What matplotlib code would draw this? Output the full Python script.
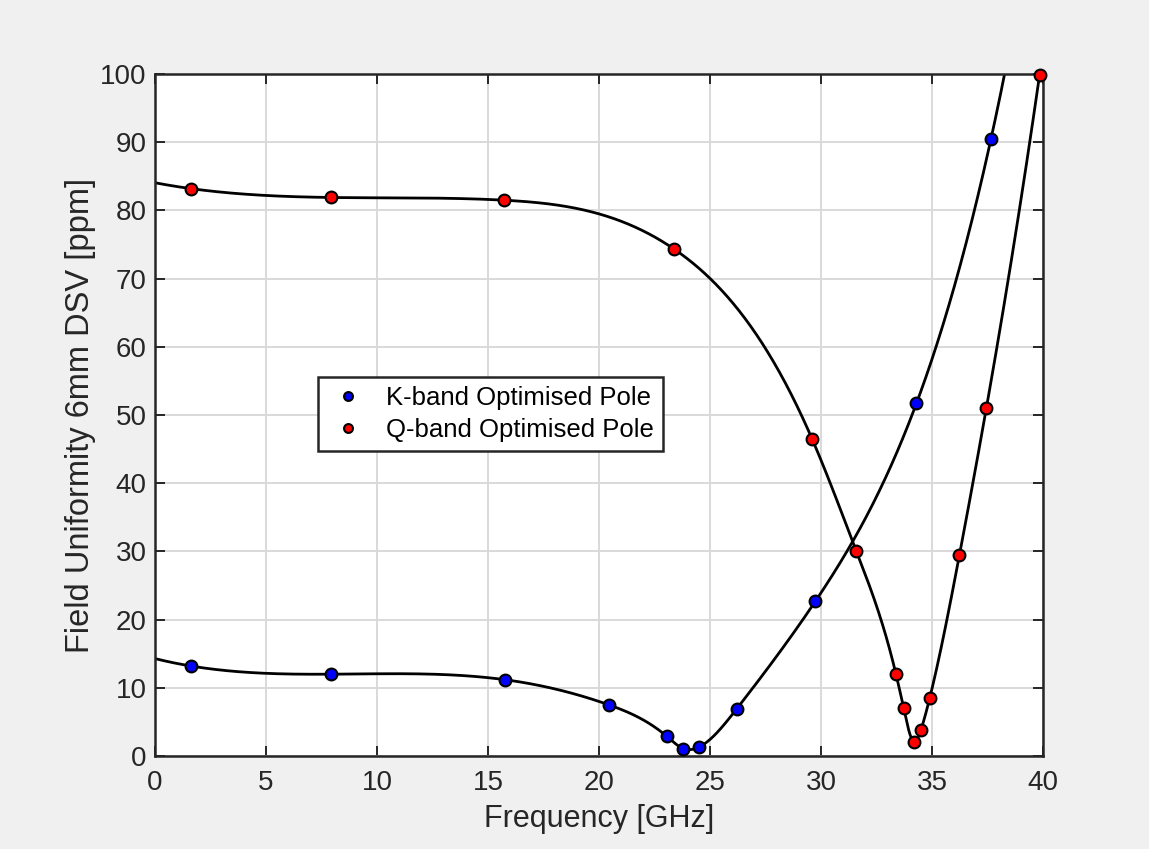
import matplotlib
matplotlib.use("Agg")
import matplotlib.pyplot as plt
import numpy as np

plt.rcParams['font.family'] = ['Liberation Sans', 'DejaVu Sans']

# K-band optimised pole
k_freq = [1.62, 7.93, 15.75, 20.45, 23.05, 23.8, 24.5, 26.2, 29.75, 34.3, 37.66]
k_unif = [13.2, 12.0, 11.2, 7.5, 2.9, 1.1, 1.3, 6.9, 22.7, 51.7, 90.5]

# Q-band optimised pole
q_freq = [1.62, 7.93, 15.73, 23.4, 29.6, 31.6, 33.38, 33.72, 34.2, 34.5, 34.9, 36.24, 37.45, 39.85]
q_unif = [83.2, 81.9, 81.5, 74.3, 46.5, 30.0, 12.0, 7.1, 2.05, 3.8, 8.5, 29.5, 51.0, 99.9]


def spline(x, y, xs):
    # not-a-knot cubic spline, like matlab's spline()
    x = np.asarray(x, float)
    y = np.asarray(y, float)
    n = len(x)
    h = np.diff(x)
    A = np.zeros((n, n))
    b = np.zeros(n)
    for i in range(1, n - 1):
        A[i, i - 1] = h[i - 1]
        A[i, i] = 2 * (h[i - 1] + h[i])
        A[i, i + 1] = h[i]
        b[i] = 6 * ((y[i + 1] - y[i]) / h[i] - (y[i] - y[i - 1]) / h[i - 1])
    A[0, 0], A[0, 1], A[0, 2] = h[1], -(h[0] + h[1]), h[0]
    A[-1, -3], A[-1, -2], A[-1, -1] = h[-1], -(h[-2] + h[-1]), h[-2]
    M = np.linalg.solve(A, b)
    idx = np.clip(np.searchsorted(x, xs) - 1, 0, n - 2)
    x0, x1 = x[idx], x[idx + 1]
    hh = x1 - x0
    return (M[idx] * (x1 - xs) ** 3 / (6 * hh) + M[idx + 1] * (xs - x0) ** 3 / (6 * hh)
            + (y[idx] / hh - M[idx] * hh / 6) * (x1 - xs)
            + (y[idx + 1] / hh - M[idx + 1] * hh / 6) * (xs - x0))


fig = plt.figure(figsize=(11.49, 8.49), dpi=100, facecolor='#f0f0f0')
ax = fig.add_axes([0.1349, 0.1095, 0.7728, 0.8033])

xs = np.linspace(0, 40, 2000)
ax.plot(xs, spline(k_freq, k_unif, xs), color='black', lw=2.0, zorder=2)
xq = np.linspace(0, q_freq[-1], 2000)
ax.plot(xq, spline(q_freq, q_unif, xq), color='black', lw=2.0, zorder=2)

ax.plot(k_freq, k_unif, 'o', color='blue', mec='black', mew=1.5, ms=8.5,
        label='K-band Optimised Pole', zorder=3, clip_on=False)
ax.plot(q_freq, q_unif, 'o', color='red', mec='black', mew=1.5, ms=8.5,
        label='Q-band Optimised Pole', zorder=3, clip_on=False)

ax.set_xlim(0, 40)
ax.set_ylim(0, 100)
ax.set_xticks(np.arange(0, 41, 5))
ax.set_yticks(np.arange(0, 101, 10))
ax.grid(True, color='#d9d9d9', lw=1.4)
ax.set_axisbelow(True)
ax.tick_params(axis='both', direction='in', length=7, width=1.4, top=True, right=True,
               labelsize=20, colors='#262626')
ax.tick_params(axis='x', pad=10)
ax.tick_params(axis='y', pad=6)
for s in ax.spines.values():
    s.set_color('#262626')
    s.set_linewidth(1.8)

ax.set_xlabel('Frequency [GHz]', fontsize=22, color='#262626', labelpad=6)
ax.set_ylabel('Field Uniformity 6mm DSV [ppm]', fontsize=23.5, color='#262626', labelpad=3)

leg = ax.legend(loc='upper left', bbox_to_anchor=(0.1836, 0.5557), fontsize=18.5,
                fancybox=False, edgecolor='#262626', framealpha=1,
                handlelength=1.6, handletextpad=0.7, borderpad=0.35, labelspacing=0.3,
                markerscale=0.75, borderaxespad=0)
leg.get_frame().set_linewidth(1.8)

fig.savefig('out.png', dpi=100, facecolor=fig.get_facecolor())
